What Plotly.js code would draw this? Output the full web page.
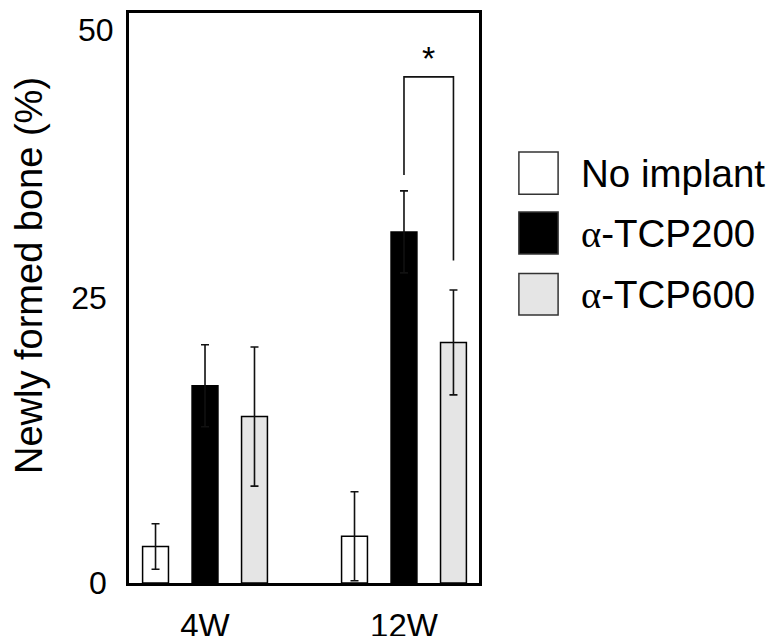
<!DOCTYPE html>
<html>
<head>
<meta charset="utf-8">
<script src="https://cdn.plot.ly/plotly-3.0.1.min.js"></script>
<style>html,body{margin:0;padding:0;background:#fff;}#chart{width:770px;height:636px;}</style>
</head>
<body>
<div id="chart"></div>
<script>
// ---- data ----
var categories = ['4W', '12W'];
var seriesNames = ['No implant', 'α-TCP200', 'α-TCP600'];
var noImplant = [3.2, 4.1];
var noImplantErr = [2.0, 3.9];
var tcp200 = [17.3, 30.8];
var tcp200Err = [3.6, 3.6];
var tcp600 = [14.6, 21.1];
var tcp600Err = [6.1, 4.6];
var yTickVals = [0, 25, 50];
var yTickText = ['0', '25', '50'];
var yTitle = 'Newly formed bone (%)';
// significance bracket (12W: α-TCP200 vs α-TCP600)
var sigGroup = 1;
var sigTop = 44.4;
var sigLeftBottom = 35.8;
var sigRightBottom = 28.3;
var sigLabel = '*';

var FONT = 'Liberation Sans, Arial, sans-serif';
var fills = ['#ffffff', '#000000', '#e5e5e5'];
var values = [noImplant, tcp200, tcp600];
var errs = [noImplantErr, tcp200Err, tcp600Err];
var yMax = 50;

var bargap = 0.254, bargroupgap = 0.477;
var slot = (1 - bargap) / 3;

var traces = values.map(function (v, i) {
  return {
    type: 'bar',
    name: seriesNames[i],
    x: categories,
    y: v,
    marker: {color: fills[i], line: {color: '#000', width: 1.5}},
    error_y: {type: 'data', array: errs[i], visible: true, color: '#111', thickness: 1.6, width: 4},
    showlegend: false,
    hoverinfo: 'skip'
  };
});

var shapes = [];
var annotations = [];
// bracket
var xl = sigGroup + 0 * slot, xr = sigGroup + 1 * slot;
shapes.push({type: 'path', xref: 'x', yref: 'y',
  path: 'M ' + xl + ',' + sigLeftBottom + ' L ' + xl + ',' + sigTop + ' L ' + xr + ',' + sigTop + ' L ' + xr + ',' + sigRightBottom,
  line: {color: '#111', width: 1.6}});
annotations.push({xref: 'x', yref: 'y', x: (xl + xr) / 2, y: sigTop - 0.2, yanchor: 'bottom', text: sigLabel,
  showarrow: false, font: {family: FONT, size: 34, color: '#000'}});

// y-axis tick labels at the range limit (drawn as text, pushed inside like the reference)
var axisTickVals = [], axisTickText = [];
yTickVals.forEach(function (v, i) {
  if (v >= yMax) {
    annotations.push({xref: 'paper', yref: 'y', x: 0, y: v, xanchor: 'right', yanchor: 'top',
      xshift: -13, yshift: 3, text: yTickText[i], showarrow: false,
      font: {family: FONT, size: 32, color: '#000'}});
  } else {
    axisTickVals.push(v); axisTickText.push(yTickText[i]);
  }
});

// y-axis title
annotations.push({xref: 'paper', yref: 'paper', x: -0.2857, y: 0.5386, xanchor: 'center', yanchor: 'middle',
  textangle: -90, text: yTitle, showarrow: false, font: {family: FONT, size: 38, color: '#000'}});

// custom legend
var legY = [[0.756, 0.682], [0.651, 0.577], [0.543, 0.470]];
seriesNames.forEach(function (n, i) {
  shapes.push({type: 'rect', xref: 'paper', yref: 'paper', x0: 1.114, x1: 1.226, y0: legY[i][1], y1: legY[i][0],
    fillcolor: fills[i], line: {color: '#333', width: 1.5}});
  var txt = n.replace('α', '<span style="font-family:Liberation Serif">α</span>');
  annotations.push({xref: 'paper', yref: 'paper', x: 1.285, y: (legY[i][0] + legY[i][1]) / 2,
    xanchor: 'left', yanchor: 'middle', text: txt, showarrow: false,
    font: {family: FONT, size: 38.5, color: '#000'}});
});

var layout = {
  width: 770, height: 636,
  margin: {l: 129, r: 291, t: 13, b: 53, pad: 0},
  paper_bgcolor: '#fff', plot_bgcolor: '#fff',
  barmode: 'group', bargap: bargap, bargroupgap: bargroupgap,
  font: {family: FONT, color: '#000'},
  xaxis: {
    type: 'category', range: [-0.382, 1.377], showgrid: false, zeroline: false,
    showline: true, linecolor: '#000', linewidth: 2.8, mirror: true,
    ticks: '', tickfont: {family: FONT, size: 33, color: '#000'}, ticklabelstandoff: 12
  },
  yaxis: {
    range: [0, yMax], tickvals: axisTickVals, ticktext: axisTickText, showgrid: false, zeroline: false,
    showline: true, linecolor: '#000', linewidth: 2.8, mirror: true,
    ticks: '', tickfont: {family: FONT, size: 32, color: '#000'}, ticklabelstandoff: 13
  },
  shapes: shapes,
  annotations: annotations
};

Plotly.newPlot('chart', traces, layout, {displayModeBar: false, staticPlot: true});
</script>
</body>
</html>
